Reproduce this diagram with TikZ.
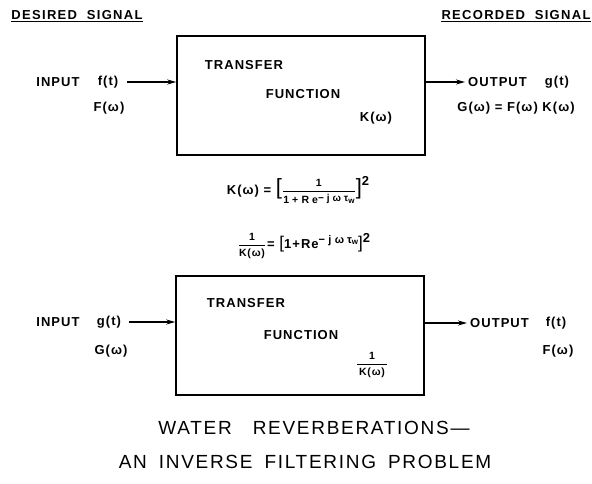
\documentclass[tikz,border=0pt]{standalone}
\usepackage{amsmath}
\usepackage{fontspec}
\setmainfont{Liberation Sans}
\newfontfamily\labfont[LetterSpace=8]{Liberation Sans}
\newfontfamily\smfont[LetterSpace=30]{Liberation Sans}
\newfontfamily\headfont[LetterSpace=10]{Liberation Sans}
\newfontfamily\titlefont[LetterSpace=9]{Liberation Sans}
\newcommand{\smtxt}[1]{\text{\fontsize{10.5}{11}\labfont\bfseries #1}}
\newcommand{\wtxt}[1]{\text{\fontsize{10.5}{11}\smfont\bfseries #1}}
\newcommand{\expo}[2]{\raisebox{#2}{\fontsize{#1}{#1}\smfont\bfseries −jωτ\raisebox{-1.5pt}{\fontsize{8}{8}\selectfont w}}}
\newcommand{\brk}[2]{{\fontsize{#1}{#1}\mdseries\selectfont #2}}
\usetikzlibrary{arrows.meta}
\begin{document}
\begin{tikzpicture}[x=1pt,y=-1pt,
  lab/.style={font=\fontsize{13}{15}\labfont\bfseries, inner sep=0pt},
  hd/.style={font=\fontsize{13}{15}\headfont\bfseries, inner sep=0pt},
  blk/.style={draw, line width=1.5pt, minimum width=248pt, minimum height=119pt, inner sep=0pt},
  arr/.style={line width=1.3pt, -{Stealth[length=9pt,width=5pt]}},
  ttl/.style={font=\fontsize{19}{22}\titlefont, inner sep=0pt}]
\useasboundingbox (0,0) rectangle (592,484);
% headings
\node[hd] (ds) at (77,15) {DESIRED\ \ SIGNAL};
\draw[line width=1.3pt] ([yshift=-2pt]ds.south west) -- ([yshift=-2pt]ds.south east);
\node[hd] (rs) at (516,15) {RECORDED\ \ SIGNAL};
\draw[line width=1.3pt] ([yshift=-2pt]rs.south west) -- ([yshift=-2pt]rs.south east);
% top box
\node[blk] (b1) at (301,95.5) {};
\node[lab] (tr1) at (244,65) {TRANSFER};
\node[lab] (fn1) at (303,94) {FUNCTION};
\node[lab] (k1) at (376,118) {K(ω)};
\node[lab] (in1) at (58,82) {INPUT};
\node[lab] (ft1) at (108,82) {f(t)};
\node[lab] (Fw1) at (109,108) {F(ω)};
\draw[arr] (ft1.east) ++(9pt,0) coordinate (a1s) (a1s) -- (a1s -| b1.west);
\coordinate (o1e) at (465,82);
\draw[arr] (b1.east |- o1e) -- (o1e);
\node[lab, anchor=west] (out1) at (468,82) {OUTPUT};
\node[lab] (gt1) at (557,82) {g(t)};
\node[lab] (Gw1) at (516,108) {G(ω) = F(ω) K(ω)};
% formulas
\node[lab] (eq1) at (298,190) {K(ω)\ =\ \brk{22}{[}$\genfrac{}{}{0.8pt}{0}{\smtxt{1}}{\wtxt{1+Re}\expo{10}{2pt}}$\brk{22}{]}\raisebox{9pt}{2}};
\node[lab] (eq2) at (304,246) {$\genfrac{}{}{0.8pt}{0}{\smtxt{1}}{\smtxt{K(ω)}}$\hspace{1pt}=\ \brk{17}{[}1+Re\expo{11}{5pt}\brk{17}{]}\raisebox{6pt}{2}};
% bottom box
\node[blk] (b2) at (300,335.5) {};
\node[lab] (tr2) at (246,303) {TRANSFER};
\node[lab] (fn2) at (301,335) {FUNCTION};
\node[lab] (k2) at (372,365) {$\genfrac{}{}{0.8pt}{0}{\smtxt{1}}{\smtxt{\,K(ω)\,}}$};
\node[lab] (in2) at (58,322) {INPUT};
\node[lab] (gt2) at (109,322) {g(t)};
\node[lab] (Gw2) at (111,351) {G(ω)};
\draw[arr] (gt2.east) ++(8pt,0) coordinate (a2s) (a2s) -- (a2s -| b2.west);
\coordinate (o2e) at (467,323);
\draw[arr] (b2.east |- o2e) -- (o2e);
\node[lab, anchor=west] (out2) at (470,323) {OUTPUT};
\node[lab] (ft2) at (556,323) {f(t)};
\node[lab] (Fw2) at (558,351) {F(ω)};
% title
\node[ttl] (t1) at (314,428) {WATER\ \ \ REVERBERATIONS—};
\node[ttl] (t2) at (305,462) {AN\hspace{12pt}INVERSE\hspace{12pt}FILTERING\hspace{12pt}PROBLEM};
\end{tikzpicture}
\end{document}
